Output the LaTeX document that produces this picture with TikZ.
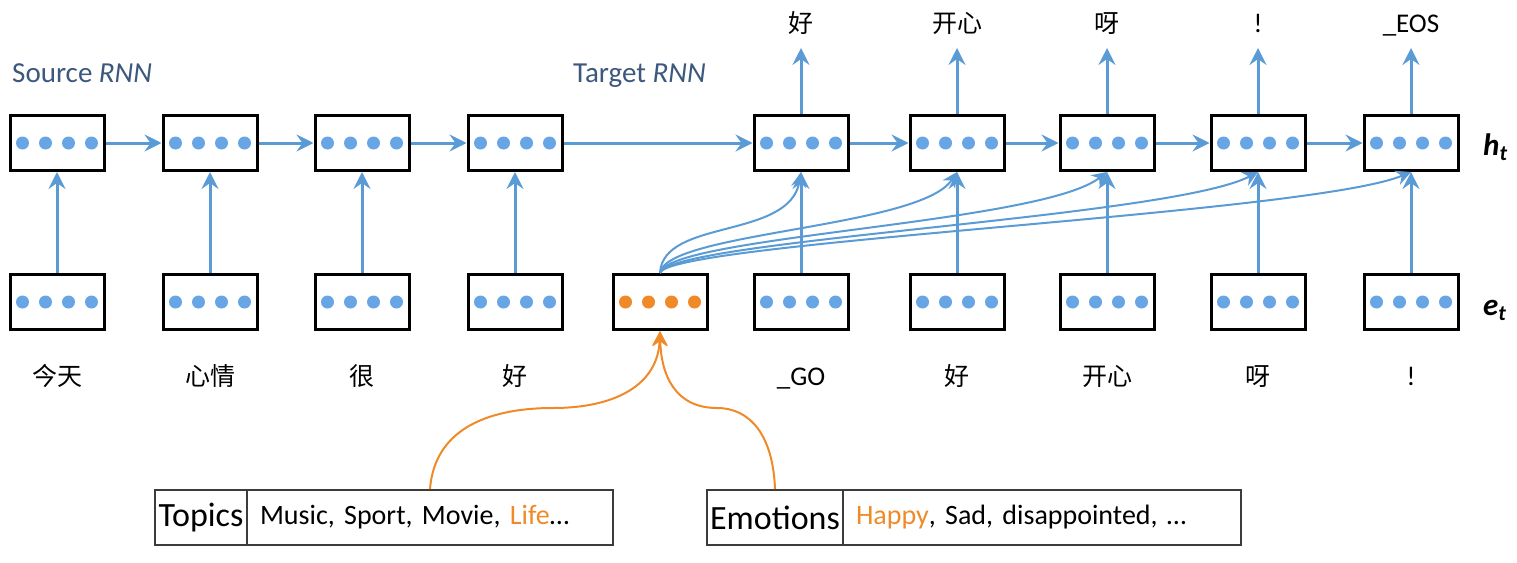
\documentclass[tikz,border=0pt]{standalone}
\usepackage{fontspec}
\setmainfont{Carlito}
\newfontfamily\cjk{Noto Sans CJK SC}
\usetikzlibrary{arrows.meta}
\definecolor{ablue}{RGB}{91,155,213}
\definecolor{dblue}{RGB}{104,165,228}
\definecolor{aorange}{RGB}{240,138,40}
\definecolor{ttl}{RGB}{60,88,125}
\definecolor{tgray}{RGB}{60,60,60}
\begin{document}
\begin{tikzpicture}[x=1pt,y=-1pt,
 cell/.style={draw=black,line width=3pt,minimum width=94pt,minimum height=55pt,inner sep=0pt},
 arr/.style={draw=ablue,line width=3pt,-{Stealth[length=17pt,width=17pt,inset=6pt]}},
 carr/.style={draw=ablue,line width=2pt,-{Stealth[length=15pt,width=15pt,inset=5pt]}},
 oarr/.style={draw=aorange,line width=2pt,-{Stealth[length=15pt,width=15pt,inset=5pt]}},
 zh/.style={font=\cjk\fontsize{25}{30}\selectfont,anchor=base,inner sep=0pt},
 lt/.style={font=\fontsize{27}{32}\selectfont,anchor=base,inner sep=0pt},
 tbl/.style={draw=tgray,line width=2pt,minimum height=55pt,inner ysep=0pt},
 ttlstyle/.style={anchor=base west,inner sep=0pt,text=ttl,font=\fontsize{29}{34}\selectfont},
 vlab/.style={anchor=base west,inner sep=0pt,font=\fontsize{31}{36}\selectfont\bfseries\itshape},
]
\useasboundingbox (0,0) rectangle (1517,562);

% cells
\foreach \n/\x in {s1/57,s2/210,s3/362,s4/515,t1/801,t2/957,t3/1107,t4/1258,t5/1411}
  \node[cell] (\n) at (\x,143) {};
\foreach \n/\x in {a1/57,a2/210,a3/362,a4/515,c/660,b1/801,b2/957,b3/1107,b4/1258,b5/1411}
  \node[cell] (\n) at (\x,302) {};

% dots
\foreach \n in {s1,s2,s3,s4,t1,t2,t3,t4,t5,a1,a2,a3,a4,b1,b2,b3,b4,b5}
  \foreach \d in {-34.5,-11.5,11.5,34.5}
    \fill[dblue] ([xshift=\d pt]\n.center) circle[radius=6.5pt];
\foreach \d in {-34.5,-11.5,11.5,34.5}
  \fill[aorange] ([xshift=\d pt]c.center) circle[radius=6.5pt];

% titles
\node[ttlstyle] (src) at (12,82) {Source \textit{RNN}};
\node[ttlstyle] (tgt) at (573,82) {Target \textit{RNN}};
\node[vlab] (ht) at (1483,155) {h\textsubscript{t}};
\node[vlab] (et) at (1483,315) {e\textsubscript{t}};

% bottom labels
\node[zh] (l1) at (57,385) {今天};
\node[zh] (l2) at (210,385) {心情};
\node[zh] (l3) at (362,385) {很};
\node[zh] (l4) at (515,385) {好};
\node[lt] (l5) at (801,385) {\_GO};
\node[zh] (l6) at (957,385) {好};
\node[zh] (l7) at (1107,385) {开心};
\node[zh] (l8) at (1258,385) {呀};
\node[lt] (l9) at (1411,385) {!};

% top labels
\node[zh] (o1) at (801,32) {好};
\node[zh] (o2) at (957,32) {开心};
\node[zh] (o3) at (1107,32) {呀};
\node[lt] (o4) at (1258,32) {!};
\node[lt] (o5) at (1411,32) {\_EOS};
\foreach \i/\x in {1/801,2/957,3/1107,4/1258,5/1411}
  \coordinate (q\i) at (\x,48);

% horizontal arrows
\draw[arr] (s1.east) -- (s2.west);
\draw[arr] (s2.east) -- (s3.west);
\draw[arr] (s3.east) -- (s4.west);
\draw[arr] (s4.east) -- (t1.west);
\draw[arr] (t1.east) -- (t2.west);
\draw[arr] (t2.east) -- (t3.west);
\draw[arr] (t3.east) -- (t4.west);
\draw[arr] (t4.east) -- (t5.west);

% vertical arrows
\foreach \i in {1,2,3,4} \draw[arr] (a\i.north) -- (s\i.south);
\foreach \i in {1,2,3,4,5} \draw[arr] (b\i.north) -- (t\i.south);
\foreach \i in {1,2,3,4,5} \draw[arr] (t\i.north) -- (q\i);

% context curves
\draw[carr] (c.north) .. controls (663,218) and (790,240) .. (t1.south);
\draw[carr] (c.north) .. controls (666,232) and (920,228) .. (t2.south);
\draw[carr] (c.north) .. controls (668,236) and (1040,224) .. (t3.south);
\draw[carr] (c.north) .. controls (668,240) and (1170,218) .. (t4.south);
\draw[carr] (c.north) .. controls (668,242) and (1310,214) .. (t5.south);

% tables
\node[tbl,minimum width=92pt,inner xsep=0pt,font=\fontsize{34}{40}\selectfont] (tk) at (201,517.5) {Topics};
\node[tbl,text width=340pt,inner xsep=13pt,align=left,font=\fontsize{28}{34}\selectfont] (tv) at (430,517.5) {Music, Sport, Movie, \textcolor{aorange}{Life}\ldots};
\node[tbl,minimum width=136pt,inner xsep=0pt,font=\fontsize{34}{40}\selectfont] (ek) at (775,517.5) {Emotions};
\node[tbl,text width=372pt,inner xsep=13pt,align=left,font=\fontsize{28}{34}\selectfont] (ev) at (1042,517.5) {\textcolor{aorange}{Happy}, Sad, disappointed, \ldots};

% orange curves
\draw[oarr] (tv.north) .. controls (435,425) and (495,408) .. (553,408) .. controls (615,408) and (658,385) .. (c.south);
\draw[oarr] (ek.north) .. controls (773,435) and (750,408) .. (717,408) .. controls (675,408) and (661,375) .. (c.south);
\end{tikzpicture}
\end{document}
